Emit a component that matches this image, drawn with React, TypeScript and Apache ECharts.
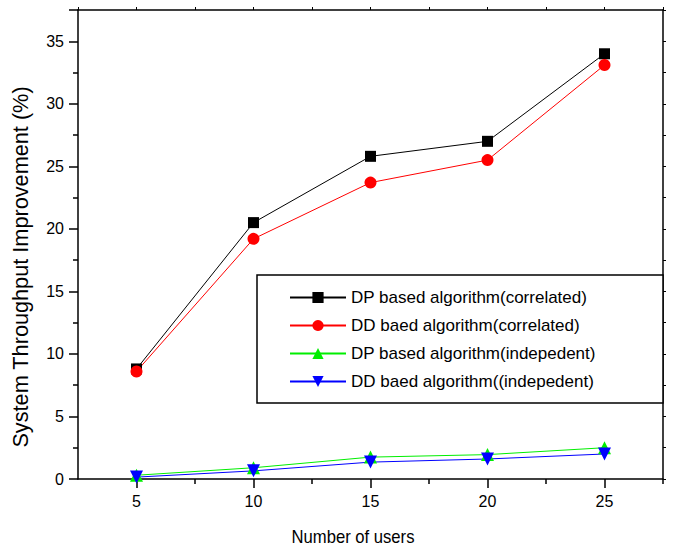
import React, { useEffect, useRef } from "react";
import * as echarts from "echarts";

const users = [5, 10, 15, 20, 25];
const dpCorrelated = [8.8, 20.5, 25.8, 27.0, 34.0];
const ddCorrelated = [8.6, 19.2, 23.7, 25.5, 33.1];
const dpIndependent = [0.3, 0.9, 1.75, 1.95, 2.5];
const ddIndependent = [0.15, 0.65, 1.35, 1.6, 2.0];
const seriesNames = [
  "DP based algorithm(correlated)",
  "DD baed algorithm(correlated)",
  "DP based algorithm(indepedent)",
  "DD baed algorithm((indepedent)",
];
const xMajorTicks = [5, 10, 15, 20, 25];
const xMinorTicks = [7.5, 12.5, 17.5, 22.5, 27.5];

const FONT = "'Liberation Sans', Arial, sans-serif";

export default function App() {
  const ref = useRef<HTMLDivElement>(null);
  useEffect(() => {
    if (!ref.current) return;
    const chart = echarts.init(ref.current, undefined, { renderer: "svg" });
    const pair = (vals: number[]) => users.map((u, i) => [u, vals[i]]);
    const mk = (name: string, vals: number[], color: string, symbol: string, size: number, rot = 0) => ({
      name,
      type: "line",
      data: pair(vals),
      symbol,
      symbolSize: size,
      symbolRotate: rot,
      showAllSymbol: true,
      lineStyle: { color, width: 1 },
      itemStyle: { color },
      z: 3,
    });
    chart.setOption({
      animation: false,
      textStyle: { fontFamily: FONT },
      grid: { left: 78, right: 23, top: 10, bottom: 69, containLabel: false },
      xAxis: [
        {
          type: "value",
          min: 2.5,
          max: 27.5,
          interval: 2.5,
          position: "bottom",
          axisLine: { show: true, lineStyle: { color: "#000", width: 1.5 } },
          axisTick: { show: true, customValues: xMajorTicks, length: 9, lineStyle: { color: "#000", width: 1.5 } },
          axisLabel: {
            customValues: xMajorTicks,
            color: "#000",
            fontSize: 16,
            fontFamily: FONT,
            margin: 14,
            formatter: (v: number) => (v % 5 === 0 ? String(v) : ""),
          },
          splitLine: { show: false },
        },
        {
          type: "value",
          min: 2.5,
          max: 27.5,
          interval: 2.5,
          position: "bottom",
          axisLine: { show: false },
          axisTick: { show: true, customValues: xMinorTicks, length: 5, lineStyle: { color: "#000", width: 1.5 } },
          axisLabel: { show: false },
          splitLine: { show: false },
        },
        {
          type: "value",
          min: 2.5,
          max: 27.5,
          interval: 2.5,
          position: "top",
          axisLine: { show: true, lineStyle: { color: "#000", width: 1.5 } },
          axisTick: { show: true, length: 3, lineStyle: { color: "#000", width: 1 } },
          axisLabel: { show: false },
          splitLine: { show: false },
        },
      ],
      yAxis: [
        {
          type: "value",
          min: 0,
          max: 37.5,
          interval: 5,
          position: "left",
          axisLine: { show: true, lineStyle: { color: "#000", width: 1.5 } },
          axisTick: { show: true, length: 9, lineStyle: { color: "#000", width: 1.5 } },
          minorTick: { show: true, splitNumber: 2, length: 5, lineStyle: { color: "#000", width: 1.5 } },
          axisLabel: {
            color: "#000",
            fontSize: 16,
            fontFamily: FONT,
            margin: 14,
            formatter: (v: number) => (v % 5 === 0 ? String(v) : ""),
          },
          splitLine: { show: false },
        },
        {
          type: "value",
          min: 0,
          max: 37.5,
          interval: 2.5,
          position: "right",
          axisLine: { show: true, lineStyle: { color: "#000", width: 1.5 } },
          axisTick: { show: true, length: 3, lineStyle: { color: "#000", width: 1 } },
          axisLabel: { show: false },
          splitLine: { show: false },
        },
      ],
      legend: {
        left: 289,
        top: 289,
        orient: "vertical",
        padding: 0,
        itemWidth: 56,
        itemHeight: 14,
        itemGap: 11,
        z: 20,
        textStyle: { color: "#000", fontSize: 17, fontFamily: FONT },
        data: seriesNames,
      },
      graphic: [
        {
          type: "rect",
          shape: { x: 257, y: 275, width: 406, height: 128 },
          style: { fill: "#fff", stroke: "#000", lineWidth: 1.5 },
          z: 1,
          silent: true,
        },
        {
          type: "text",
          x: 353,
          y: 537,
          scaleX: 0.9,
          style: {
            text: "Number of users",
            fill: "#000",
            font: `18.5px ${FONT}`,
            textAlign: "center",
            textVerticalAlign: "middle",
          },
        },
        {
          type: "text",
          x: 20,
          y: 267,
          rotation: Math.PI / 2,
          style: {
            text: "System Throughput Improvement (%)",
            fill: "#000",
            font: `21.7px ${FONT}`,
            textAlign: "center",
            textVerticalAlign: "middle",
          },
        },
      ],
      series: [
        mk(seriesNames[0], dpCorrelated, "#000000", "rect", 11),
        mk(seriesNames[1], ddCorrelated, "#ff0000", "circle", 12),
        mk(seriesNames[2], dpIndependent, "#00ee00", "triangle", 13),
        mk(seriesNames[3], ddIndependent, "#0000ff", "triangle", 13, 180),
      ],
    });
    return () => chart.dispose();
  }, []);
  return <div ref={ref} style={{ width: 686, height: 548, position: "absolute", left: 0, top: 0 }} />;
}
